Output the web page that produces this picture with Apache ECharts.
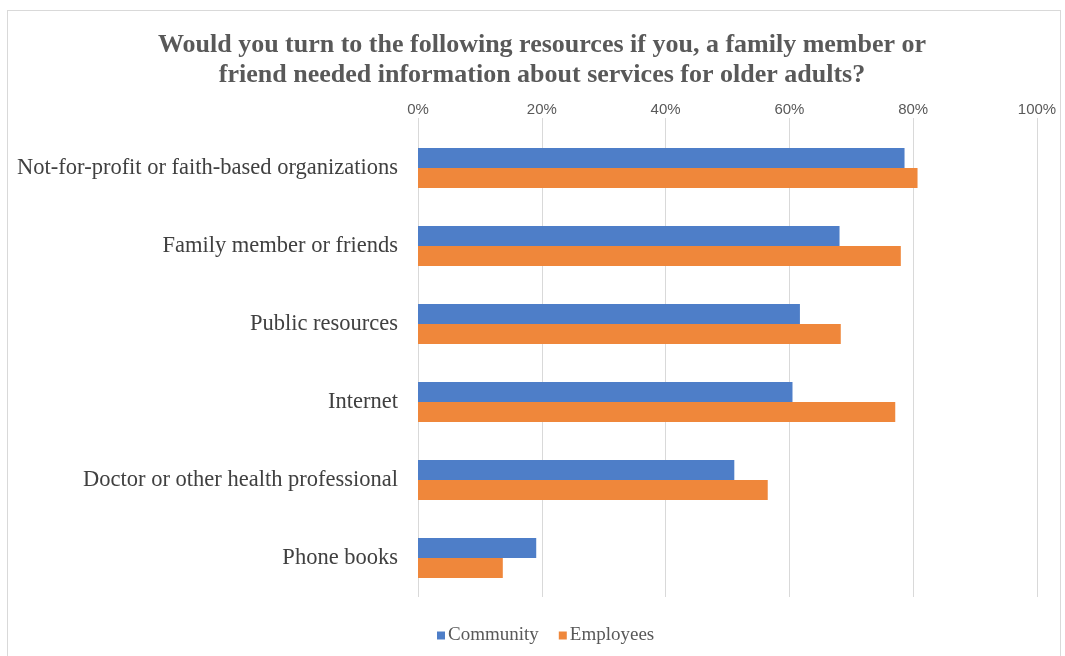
<!DOCTYPE html>
<html>
<head>
<meta charset="utf-8">
<script src="https://cdn.jsdelivr.net/npm/echarts@6/dist/echarts.min.js"></script>
<style>
  html, body { margin: 0; padding: 0; background: #fff; }
  #frame { position: absolute; left: 7px; top: 10px; width: 1054px; height: 700px; border: 1px solid #d9d9d9; box-sizing: border-box; }
  #chart { position: absolute; left: 0; top: 0; width: 1065px; height: 656px; }
</style>
</head>
<body>
<div id="frame"></div>
<div id="chart"></div>
<script>
const categories = [
  "Not-for-profit or faith-based organizations",
  "Family member or friends",
  "Public resources",
  "Internet",
  "Doctor or other health professional",
  "Phone books"
];
const community = [0.786, 0.681, 0.617, 0.605, 0.511, 0.191];
const employees = [0.807, 0.780, 0.683, 0.771, 0.565, 0.137];
const seriesNames = ["Community", "Employees"];
const titleText = "Would you turn to the following resources if you, a family member or\nfriend needed information about services for older adults?";

const chart = echarts.init(document.getElementById('chart'), null, { renderer: 'canvas' });
chart.setOption({
  animation: false,
  backgroundColor: 'transparent',
  title: {
    text: titleText,
    left: 537,
    textAlign: 'center',
    top: 25,
    textStyle: {
      fontFamily: 'Liberation Serif',
      fontWeight: 'bold',
      fontSize: 26,
      color: '#595959',
      lineHeight: 30
    }
  },
  legend: {
    data: seriesNames,
    bottom: 6,
    left: 432,
    itemWidth: 8,
    itemHeight: 8,
    itemGap: 20,
    icon: 'rect',
    textStyle: { fontFamily: 'Liberation Serif', fontSize: 19, color: '#595959', padding: [0, 0, 0, -2] }
  },
  grid: { left: 418, right: 28, top: 129, bottom: 59, containLabel: false },
  xAxis: {
    type: 'value',
    position: 'top',
    min: 0, max: 1, interval: 0.2,
    axisLine: { show: false },
    axisTick: { show: true, length: 11, lineStyle: { color: '#d9d9d9', width: 1 } },
    splitLine: { show: true, lineStyle: { color: '#d9d9d9', width: 1 } },
    axisLabel: {
      margin: 12,
      fontFamily: 'Liberation Sans',
      fontSize: 15,
      color: '#595959',
      formatter: v => Math.round(v * 100) + '%'
    }
  },
  yAxis: {
    type: 'category',
    data: categories,
    inverse: true,
    axisLine: { show: false },
    axisTick: { show: false },
    axisLabel: {
      margin: 20,
      fontFamily: 'Liberation Serif',
      fontSize: 22.5,
      color: '#404040'
    }
  },
  series: [
    {
      name: seriesNames[0], type: 'bar', data: community,
      barWidth: 20, barGap: '0%',
      itemStyle: { color: '#4e7ec8' }
    },
    {
      name: seriesNames[1], type: 'bar', data: employees,
      barWidth: 20, barGap: '0%',
      itemStyle: { color: '#ef873b' }
    }
  ]
});
</script>
</body>
</html>
